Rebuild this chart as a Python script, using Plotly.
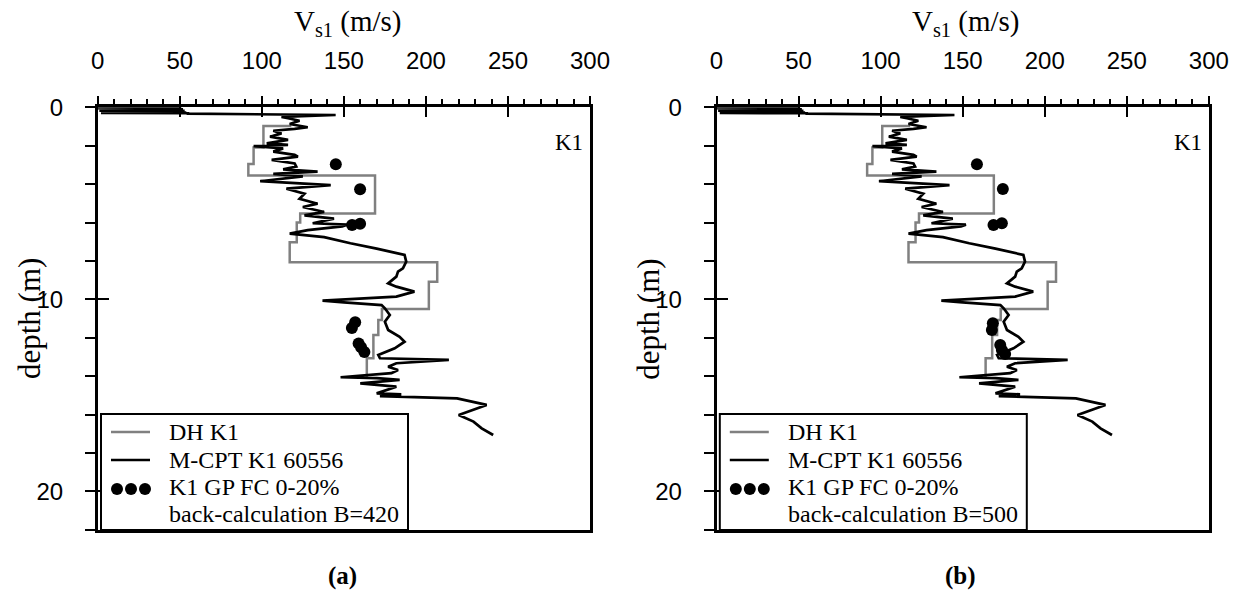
import plotly.graph_objects as go

# ---------------- data ----------------
cpt_depth = [0.01, 0.03, 0.05, 0.07, 0.09, 0.11, 0.13, 0.15, 0.17, 0.19, 0.21, 0.23, 0.25, 0.27, 0.29,
             0.31, 0.33, 0.40, 0.50, 0.57, 0.70,
             0.87, 1.04, 1.12, 1.22, 1.36, 1.53, 1.70, 1.88, 1.96, 2.02, 2.14, 2.31, 2.48, 2.57, 2.74,
             2.92, 3.09, 3.23, 3.35, 3.47, 3.60, 3.85, 4.05, 4.24, 4.50, 4.76, 5.02, 5.19, 5.45, 5.63,
             5.80, 6.04, 6.11, 6.20, 6.40, 6.58, 6.76, 7.08, 7.36, 7.69, 8.04, 8.39, 8.56, 8.82, 9.17,
             9.34, 9.60, 9.86, 10.07, 10.16, 10.30, 10.47, 10.82, 11.17, 11.60, 11.95, 12.21, 12.55,
             12.90, 13.07, 13.16, 13.33, 13.51, 13.68, 13.85, 14.06, 14.11, 14.20, 14.38, 14.55, 14.90,
             14.95, 15.04, 15.16, 15.50, 16.03, 16.37, 16.72, 17.07]
cpt_vs = [0, 50, 0, 51, 1, 52, 1, 52, 1, 53, 2, 53, 2, 54, 2,
          55, 55, 145, 112, 116, 123,
          117, 128, 120, 107, 112, 105, 116, 103, 116, 95, 113, 107, 120, 122, 106,
          120, 121, 113, 134, 107, 125, 99, 142, 115, 126, 123, 134, 125, 138, 126,
          144, 131, 152, 149, 128, 117, 138, 154, 170, 187, 188, 186, 183, 182, 177,
          182, 193, 182, 137, 150, 173, 175, 178, 175, 177, 184, 187, 181,
          171, 172, 214, 182, 177, 183, 179, 148, 170, 184, 160, 182, 170,
          185, 172, 219, 237, 220, 229, 234, 241]

dh_top = [0.97, 2.10, 2.95, 3.55, 5.53, 6.00, 7.03, 8.07, 9.08, 10.50, 11.08, 11.86, 13.07]
dh_bottom = [2.10, 2.95, 3.55, 5.53, 6.00, 7.03, 8.07, 9.08, 10.50, 11.08, 11.86, 13.07, 14.05]
dh_vs = [101, 95, 91.8, 169, 123.4, 121.3, 117, 206.9, 201.8, 173.2, 171, 168, 164]
dh_start_vs = 118

gp_depth_a = [2.97, 4.27, 6.13, 6.06, 11.20, 11.50, 12.30, 12.50, 12.75]
gp_vs_a = [145.1, 159.9, 155.0, 159.9, 156.9, 154.9, 159.0, 160.5, 162.5]
gp_depth_b = [2.97, 4.26, 6.13, 6.04, 11.25, 11.60, 12.38, 12.64, 12.85]
gp_vs_b = [158.7, 174.5, 168.8, 173.9, 168.4, 167.8, 172.9, 173.9, 175.9]

x_ticks = [0, 50, 100, 150, 200, 250, 300]
y_ticks = [0, 10, 20]
panel_labels = ["(a)", "(b)"]
b_values = [420, 500]

# step profile for downhole data
dh_x, dh_y = [dh_start_vs], [dh_top[0]]
for t, b, v in zip(dh_top, dh_bottom, dh_vs):
    dh_x += [v, v]
    dh_y += [t, b]

W, H = 1241, 593
def px(x):
    return x / W
def py(y):
    return 1 - y / H

SERIF = "Liberation Serif"
SANS = "Liberation Sans"

fig = go.Figure()

panels = [
    dict(xa="x", ya="y", xo="x3", yo="y3", dx=0.0, gp_x=gp_vs_a, gp_y=gp_depth_a),
    dict(xa="x2", ya="y2", xo="x4", yo="y4", dx=618.8, gp_x=gp_vs_b, gp_y=gp_depth_b),
]

shapes, annotations = [], []
for i, p in enumerate(panels):
    fig.add_trace(go.Scatter(x=dh_x, y=dh_y, mode="lines", xaxis=p["xa"], yaxis=p["ya"],
                             line=dict(color="rgb(128,128,128)", width=2.5, simplify=False), showlegend=False,
                             hoverinfo="skip"))
    fig.add_trace(go.Scatter(x=cpt_vs, y=cpt_depth, mode="lines", xaxis=p["xa"], yaxis=p["ya"],
                             line=dict(color="black", width=2.7, simplify=False), showlegend=False,
                             hoverinfo="skip"))
    fig.add_trace(go.Scatter(x=p["gp_x"], y=p["gp_y"], mode="markers", xaxis=p["xa"], yaxis=p["ya"],
                             marker=dict(color="black", size=12), showlegend=False, hoverinfo="skip"))
    # dummy traces so overlay tick axes exist
    fig.add_trace(go.Scatter(x=[], y=[], xaxis=p["xo"], yaxis=p["ya"], showlegend=False))
    fig.add_trace(go.Scatter(x=[], y=[], xaxis=p["xa"], yaxis=p["yo"], showlegend=False))

    dx = p["dx"]
    # titles
    annotations.append(dict(text="V<sub>s1</sub> (m/s)", x=px(347 + dx), y=py(23), xref="paper", yref="paper",
                            showarrow=False, font=dict(family=SERIF, size=29, color="black"),
                            xanchor="center", yanchor="middle"))
    annotations.append(dict(text="depth (m)", x=px(29 + dx), y=py(319), xref="paper", yref="paper",
                            showarrow=False, textangle=-90, font=dict(family=SERIF, size=31, color="black"),
                            xanchor="center", yanchor="middle"))
    annotations.append(dict(text="K1", x=px(585 + dx), y=py(142), xref="paper", yref="paper",
                            showarrow=False, font=dict(family=SERIF, size=23, color="black"),
                            xanchor="right", yanchor="middle"))
    annotations.append(dict(text="<b>%s</b>" % panel_labels[i], x=px(342 + dx), y=py(576), xref="paper",
                            yref="paper", showarrow=False, font=dict(family=SERIF, size=25, color="black"),
                            xanchor="center", yanchor="middle"))
    # legend box
    shapes.append(dict(type="rect", xref="paper", yref="paper", x0=px(101 + dx), x1=px(408 + dx),
                       y0=py(530), y1=py(414), line=dict(color="black", width=2), fillcolor="white",
                       layer="above"))
    shapes.append(dict(type="line", xref="paper", yref="paper", x0=px(111 + dx), x1=px(150 + dx),
                       y0=py(432), y1=py(432), line=dict(color="rgb(128,128,128)", width=2.5), layer="above"))
    shapes.append(dict(type="line", xref="paper", yref="paper", x0=px(111 + dx), x1=px(150 + dx),
                       y0=py(460), y1=py(460), line=dict(color="black", width=2.7), layer="above"))
    for cx in (117, 131, 145):
        shapes.append(dict(type="circle", xref="paper", yref="paper", x0=px(cx - 6 + dx), x1=px(cx + 6 + dx),
                           y0=py(495), y1=py(483), line=dict(color="black", width=0), fillcolor="black",
                           layer="above"))
    leg_texts = ["DH K1", "M-CPT K1 60556", "K1 GP FC 0-20%", "back-calculation B=%d" % b_values[i]]
    for t, yy in zip(leg_texts, [432, 460, 487, 514]):
        annotations.append(dict(text=t, x=px(167 + dx), y=py(yy), xref="paper", yref="paper",
                                showarrow=False, font=dict(family=SERIF, size=24, color="black"),
                                xanchor="left", yanchor="middle"))

ydom = [py(529.7), py(107.3)]
xdoms = [[px(97.7), px(590)], [px(716.5), px(1208.8)]]

layout = dict(width=W, height=H, margin=dict(l=0, r=0, t=0, b=0, autoexpand=False), paper_bgcolor="white",
              plot_bgcolor="white", shapes=shapes, annotations=annotations, showlegend=False)

for i, p in enumerate(panels):
    xn = "xaxis" + ("" if i == 0 else "2")
    yn = "yaxis" + ("" if i == 0 else "2")
    xon = "xaxis" + ("3" if i == 0 else "4")
    yon = "yaxis" + ("3" if i == 0 else "4")
    layout[xn] = dict(domain=xdoms[i], range=[0, 300], side="top", anchor=p["ya"], tickvals=x_ticks,
                      ticks="outside", ticklen=9, tickwidth=2, tickcolor="black",
                      minor=dict(dtick=10, tick0=0, ticks="outside", ticklen=6, tickwidth=1.5, tickcolor="black"),
                      showline=True, linewidth=2.5, linecolor="black", mirror=True, showgrid=False,
                      zeroline=False, tickfont=dict(family=SANS, size=24, color="black"),
                      ticklabelstandoff=17, fixedrange=True, automargin=False)
    layout[yn] = dict(domain=ydom, range=[22, 0], anchor=p["xa"], tickvals=y_ticks,
                      ticks="outside", ticklen=10, tickwidth=2, tickcolor="black",
                      minor=dict(dtick=2, tick0=0, ticks="outside", ticklen=10, tickwidth=1.5, tickcolor="black"),
                      showline=True, linewidth=2.5, linecolor="black", mirror=True, showgrid=False,
                      zeroline=False, tickfont=dict(family=SANS, size=24, color="black"),
                      ticklabelstandoff=17, fixedrange=True, automargin=False)
    layout[xon] = dict(overlaying=p["xa"], side="top", anchor=p["ya"], range=[0, 300], tickvals=x_ticks,
                       ticks="inside", ticklen=10, tickwidth=2, tickcolor="black", showticklabels=False,
                       showline=False, showgrid=False, zeroline=False, fixedrange=True, automargin=False)
    layout[yon] = dict(overlaying=p["ya"], side="left", anchor=p["xa"], range=[22, 0], tickvals=y_ticks,
                       ticks="inside", ticklen=11, tickwidth=2, tickcolor="black", showticklabels=False,
                       showline=False, showgrid=False, zeroline=False, fixedrange=True, automargin=False)

fig.update_layout(**layout)
fig.write_html("out.html",
               post_script="document.body.style.margin='0';document.body.style.overflow='hidden';")
